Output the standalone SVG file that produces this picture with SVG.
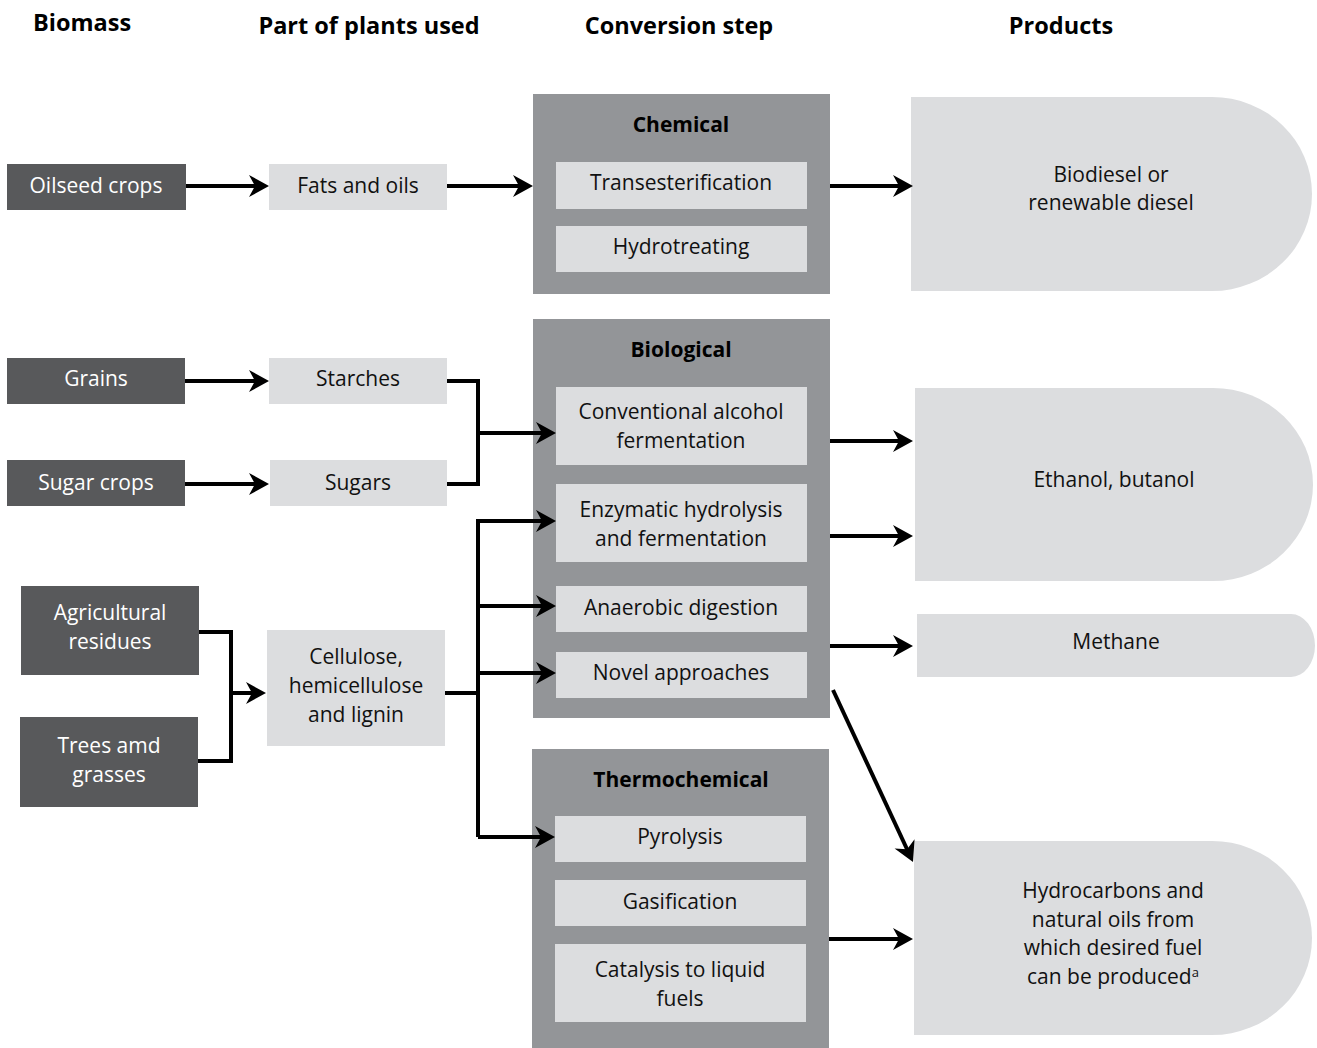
<svg xmlns="http://www.w3.org/2000/svg" width="1317" height="1048" viewBox="0 0 1317 1048">
<style>
text{font-family:"Open Sans","Liberation Sans",sans-serif;font-size:21px;text-anchor:middle;fill:#111}
.h{font-weight:bold;font-size:23.5px;fill:#000}
.t{font-weight:bold;font-size:21px;fill:#000}
.w{fill:#fff}
.dark{fill:#58595b}
.light{fill:#dcdddf}
.mid{fill:#939598}
.c{fill:none;stroke:#000;stroke-width:4;marker-end:url(#ah)}
.b{fill:none;stroke:#000;stroke-width:4}
</style>
<defs>
<marker id="ah" markerUnits="userSpaceOnUse" viewBox="-22 -12 28 24" markerWidth="28" markerHeight="24" refX="-5" refY="0" orient="auto">
<path d="M-20,-11 L0,0 L-20,11 L-14,0 Z" fill="#000"/>
</marker>
</defs>
<rect width="1317" height="1048" fill="#fff"/>
<g id="headers">
<text class="h" x="82" y="31">Biomass</text>
<text class="h" x="369" y="34">Part of plants used</text>
<text class="h" x="679" y="34">Conversion step</text>
<text class="h" x="1061" y="34">Products</text>
</g>
<g id="oilseed"><rect class="dark" x="7" y="164" width="179" height="46"/><text class="w" x="96" y="193">Oilseed crops</text></g>
<g id="fats"><rect class="light" x="269" y="164" width="178" height="46"/><text x="358" y="193">Fats and oils</text></g>
<g id="grains"><rect class="dark" x="7" y="358" width="178" height="46"/><text class="w" x="96" y="386">Grains</text></g>
<g id="starches"><rect class="light" x="269" y="358" width="178" height="46"/><text x="358" y="386">Starches</text></g>
<g id="sugarcrops"><rect class="dark" x="7" y="460" width="178" height="46"/><text class="w" x="96" y="490">Sugar crops</text></g>
<g id="sugars"><rect class="light" x="270" y="460" width="177" height="46"/><text x="358" y="490">Sugars</text></g>
<g id="agri"><rect class="dark" x="21" y="586" width="178" height="89"/><text class="w" x="110" y="620">Agricultural</text><text class="w" x="110" y="649">residues</text></g>
<g id="trees"><rect class="dark" x="20" y="717" width="178" height="90"/><text class="w" x="109" y="753">Trees amd</text><text class="w" x="109" y="782">grasses</text></g>
<g id="cellulose"><rect class="light" x="267" y="630" width="178" height="116"/><text x="356" y="664">Cellulose,</text><text x="356" y="693">hemicellulose</text><text x="356" y="722">and lignin</text></g>
<g id="chemical">
<rect class="mid" x="533" y="94" width="297" height="200"/>
<text class="t" x="681" y="132">Chemical</text>
<rect class="light" x="556" y="162" width="251" height="47"/><text x="681" y="190">Transesterification</text>
<rect class="light" x="556" y="226" width="251" height="46"/><text x="681" y="254">Hydrotreating</text>
</g>
<g id="biological">
<rect class="mid" x="533" y="319" width="297" height="399"/>
<text class="t" x="681" y="357">Biological</text>
<rect class="light" x="556" y="387" width="251" height="78"/><text x="681" y="419">Conventional alcohol</text><text x="681" y="448">fermentation</text>
<rect class="light" x="556" y="484" width="251" height="78"/><text x="681" y="517">Enzymatic hydrolysis</text><text x="681" y="546">and fermentation</text>
<rect class="light" x="556" y="586" width="251" height="46"/><text x="681" y="615">Anaerobic digestion</text>
<rect class="light" x="556" y="652" width="251" height="46"/><text x="681" y="680">Novel approaches</text>
</g>
<g id="thermochemical">
<rect class="mid" x="532" y="749" width="297" height="299"/>
<text class="t" x="681" y="787">Thermochemical</text>
<rect class="light" x="555" y="816" width="251" height="46"/><text x="680" y="844">Pyrolysis</text>
<rect class="light" x="555" y="880" width="251" height="46"/><text x="680" y="909">Gasification</text>
<rect class="light" x="555" y="944" width="251" height="78"/><text x="680" y="977">Catalysis to liquid</text><text x="680" y="1006">fuels</text>
</g>
<g id="biodiesel"><path class="light" d="M911,97 H1212 A100,97 0 0 1 1312,194 A100,97 0 0 1 1212,291 H911 Z"/><text x="1111" y="182">Biodiesel or</text><text x="1111" y="210">renewable diesel</text></g>
<g id="ethanol"><path class="light" d="M915,388 H1213 A100,96.5 0 0 1 1313,484.5 A100,96.5 0 0 1 1213,581 H915 Z"/><text x="1114" y="487">Ethanol, butanol</text></g>
<g id="methane"><path class="light" d="M917,614 H1291 A24,31.5 0 0 1 1315,645.5 A24,31.5 0 0 1 1291,677 H917 Z"/><text x="1116" y="649">Methane</text></g>
<g id="hydrocarbons"><path class="light" d="M914,841 H1212 A100,97 0 0 1 1312,938 A100,97 0 0 1 1212,1035 H914 Z"/><text x="1113" y="898">Hydrocarbons and</text><text x="1113" y="927">natural oils from</text><text x="1113" y="955">which desired fuel</text><text x="1113" y="984">can be produced<tspan font-size="13" dy="-7">a</tspan></text></g>
<g id="connectors">
<path class="c" d="M186,186 H264"/>
<path class="c" d="M447,186 H528"/>
<path class="c" d="M830,186 H908"/>
<path class="c" d="M185,381 H264"/>
<path class="c" d="M185,484 H264"/>
<path class="b" d="M447,381 H478 V484 H447"/>
<path class="c" d="M478,433 H551"/>
<path class="b" d="M199,632 H231 V761 H198"/>
<path class="c" d="M231,693 H261"/>
<path class="b" d="M445,693 H478"/>
<path class="c" d="M478,837 V521 H551"/>
<path class="c" d="M478,606 H551"/>
<path class="c" d="M478,673 H551"/>
<path class="c" d="M478,837 H550"/>
<path class="c" d="M830,441 H908"/>
<path class="c" d="M830,536 H908"/>
<path class="c" d="M830,646 H908"/>
<path class="c" d="M833,690 L910.9,857.5"/>
<path class="c" d="M829,939 H908"/>
</g>
</svg>
